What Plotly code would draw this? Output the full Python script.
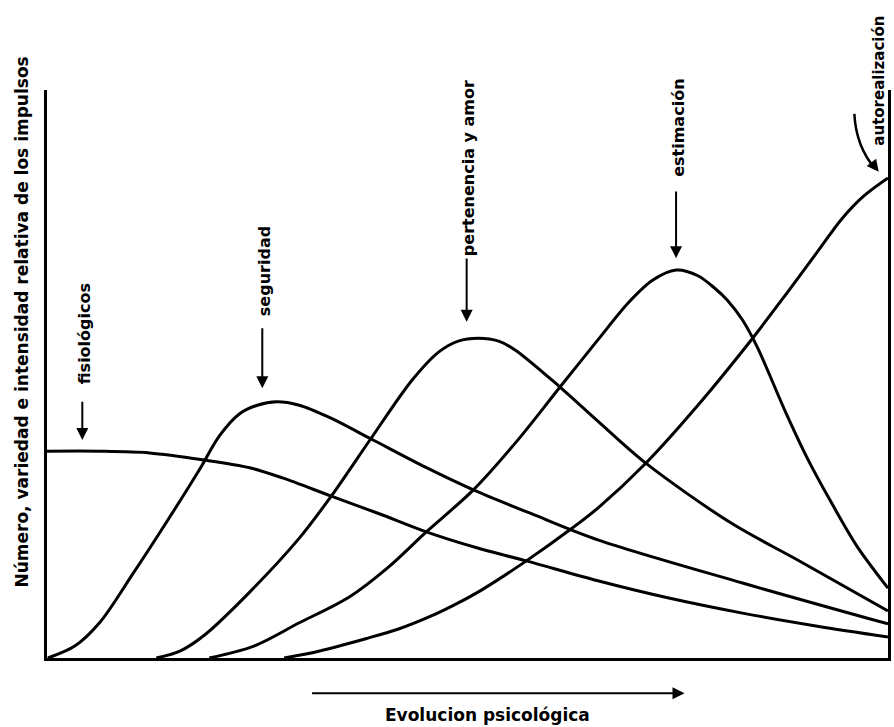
import plotly.graph_objects as go

# Evolución psicológica (0-100) vs. intensidad relativa (0-100)
fis_x = [0, 6.3, 12.2, 18.5, 24.1, 28.0, 33.8, 39.5, 45.1, 51.1, 57.0, 65.5, 73.8, 82.7, 91.6, 100]
fis_y = [36.4, 36.4, 36.1, 34.9, 33.5, 31.7, 28.5, 25.4, 22.2, 19.4, 17.1, 13.6, 10.6, 7.9, 5.6, 3.7]

seg_x = [0.1, 3.3, 6.3, 10.2, 14.2, 18.1, 20.5, 22.9, 25.0, 27.3, 30.0, 33.5, 38.5, 45.0, 50.7, 57.6, 65.5, 82.7, 100]
seg_y = [0, 2.1, 6.3, 14.8, 23.9, 33.1, 39.1, 43.0, 44.5, 45.1, 44.5, 42.4, 38.6, 33.6, 29.6, 25.4, 20.8, 13.2, 6.0]

per_x = [13.0, 15.8, 18.7, 24.1, 30.0, 33.8, 38.5, 43.4, 46.6, 48.9, 51.3, 53.7, 55.7, 61.0, 65.5, 71.2, 81.3, 89.2, 100]
per_y = [0, 1.2, 4.0, 11.6, 21.1, 28.5, 38.6, 48.9, 53.9, 55.8, 56.3, 55.8, 54.2, 47.7, 41.7, 34.3, 23.8, 17.3, 8.3]

est_x = [19.3, 24.6, 30.0, 35.9, 40.6, 45.1, 50.7, 56.0, 61.0, 65.5, 69.1, 72.0, 74.8, 77.4, 79.4, 80.9, 82.7, 84.5, 87.7, 90.4, 93.1, 96.3, 100]
est_y = [0, 2.1, 6.2, 10.7, 16.0, 22.2, 29.6, 38.4, 47.7, 56.0, 62.5, 66.5, 68.3, 67.3, 65.1, 63.0, 59.5, 54.6, 43.7, 35.2, 27.8, 19.7, 12.3]

aut_x = [28.2, 32.3, 37.9, 41.8, 45.7, 48.9, 51.7, 57.0, 62.3, 65.5, 71.2, 77.4, 83.9, 88.0, 91.6, 94.5, 97.1, 100]
aut_y = [0, 1.2, 3.4, 5.1, 7.4, 9.7, 12.0, 17.1, 22.7, 26.4, 34.3, 44.5, 56.3, 64.3, 71.5, 77.3, 81.3, 84.5]

series = [
    ("fisiológicos", fis_x, fis_y),
    ("seguridad", seg_x, seg_y),
    ("pertenencia y amor", per_x, per_y),
    ("estimación", est_x, est_y),
    ("autorealización", aut_x, aut_y),
]

# label anchors (x in evolution units, y of text centre, arrow top, arrow tip)
label_names = ["fisiológicos", "seguridad", "pertenencia y amor", "estimación"]
label_x = [4.2, 25.6, 49.9, 74.8]
label_text_y = [57.0, 68.1, 86.3, 93.3]
arrow_top_y = [45.4, 58.3, 70.6, 82.4]
arrow_tip_y = [38.4, 47.5, 59.2, 70.4]

BLACK = "#000000"
FONT = "DejaVu Sans"
PX_PER_Y = 568 / 100.0
PX_PER_X = 844 / 100.0
LABEL_SIZE = 16

fig = go.Figure()
for name, xs, ys in series:
    fig.add_trace(go.Scatter(
        x=xs, y=ys, mode="lines", name=name,
        line=dict(color=BLACK, width=3, shape="spline", smoothing=0.9),
        cliponaxis=False, showlegend=False, hoverinfo="skip"))

ann = []
for name, lx, ty, ay0, ay1 in zip(label_names, label_x, label_text_y, arrow_top_y, arrow_tip_y):
    ann.append(dict(x=lx / 100 + 0.002, y=ty / 100, xref="paper", yref="paper",
                    text="<b>" + name + "</b>", showarrow=False, textangle=-90,
                    font=dict(family=FONT, size=LABEL_SIZE, color=BLACK),
                    xanchor="center", yanchor="middle"))
    ann.append(dict(x=lx / 100, y=ay1 / 100, xref="paper", yref="paper",
                    ax=0, ay=-(ay0 - ay1) * PX_PER_Y,
                    text="", showarrow=True, arrowhead=2, arrowsize=1.2,
                    arrowwidth=2, arrowcolor=BLACK))

# autorealización label and curved arrow
ann.append(dict(x=0.989, y=1.016, xref="paper", yref="paper",
                text="<b>autorealización</b>", showarrow=False, textangle=-90,
                font=dict(family=FONT, size=15, color=BLACK),
                xanchor="center", yanchor="middle"))
ann.append(dict(x=0.989, y=0.856, xref="paper", yref="paper",
                ax=-7, ay=-9, text="", showarrow=True, arrowhead=2,
                arrowsize=1.2, arrowwidth=2, arrowcolor=BLACK))

# axis titles
ann.append(dict(x=-0.030, y=0.592, xref="paper", yref="paper",
                text="<b>Número, variedad e intensidad relativa de los impulsos</b>",
                showarrow=False, textangle=-90,
                font=dict(family=FONT, size=17, color=BLACK),
                xanchor="center", yanchor="middle"))
ann.append(dict(x=0.524, y=-0.100, xref="paper", yref="paper",
                text="<b>Evolucion psicológica</b>", showarrow=False,
                font=dict(family=FONT, size=17, color=BLACK),
                xanchor="center", yanchor="middle"))
ann.append(dict(x=0.758, y=-0.062, xref="paper", yref="paper",
                ax=-(0.758 - 0.315) * 100 * PX_PER_X, ay=0,
                text="", showarrow=True, arrowhead=2, arrowsize=1.2,
                arrowwidth=2, arrowcolor=BLACK))

shapes = [
    dict(type="path", xref="paper", yref="paper",
         path="M 0.960 0.958 Q 0.962 0.900 0.985 0.861",
         line=dict(color=BLACK, width=2.5)),
]

fig.update_layout(
    width=894, height=727,
    margin=dict(l=47, r=3, t=90, b=69),
    paper_bgcolor="white", plot_bgcolor="white",
    annotations=ann, shapes=shapes,
    xaxis=dict(range=[0, 100], showgrid=False, zeroline=False, showticklabels=False,
               ticks="", showline=True, linecolor=BLACK, linewidth=3, mirror=False),
    yaxis=dict(range=[0, 100], showgrid=False, zeroline=False, showticklabels=False,
               ticks="", showline=True, linecolor=BLACK, linewidth=3, mirror=True),
)

# remove the page's default body margin so the 894x727 figure fills the window
fig.write_html(
    "out.html",
    config={"displayModeBar": False},
    post_script="document.body.style.margin='0px';document.body.style.overflow='hidden';",
)
